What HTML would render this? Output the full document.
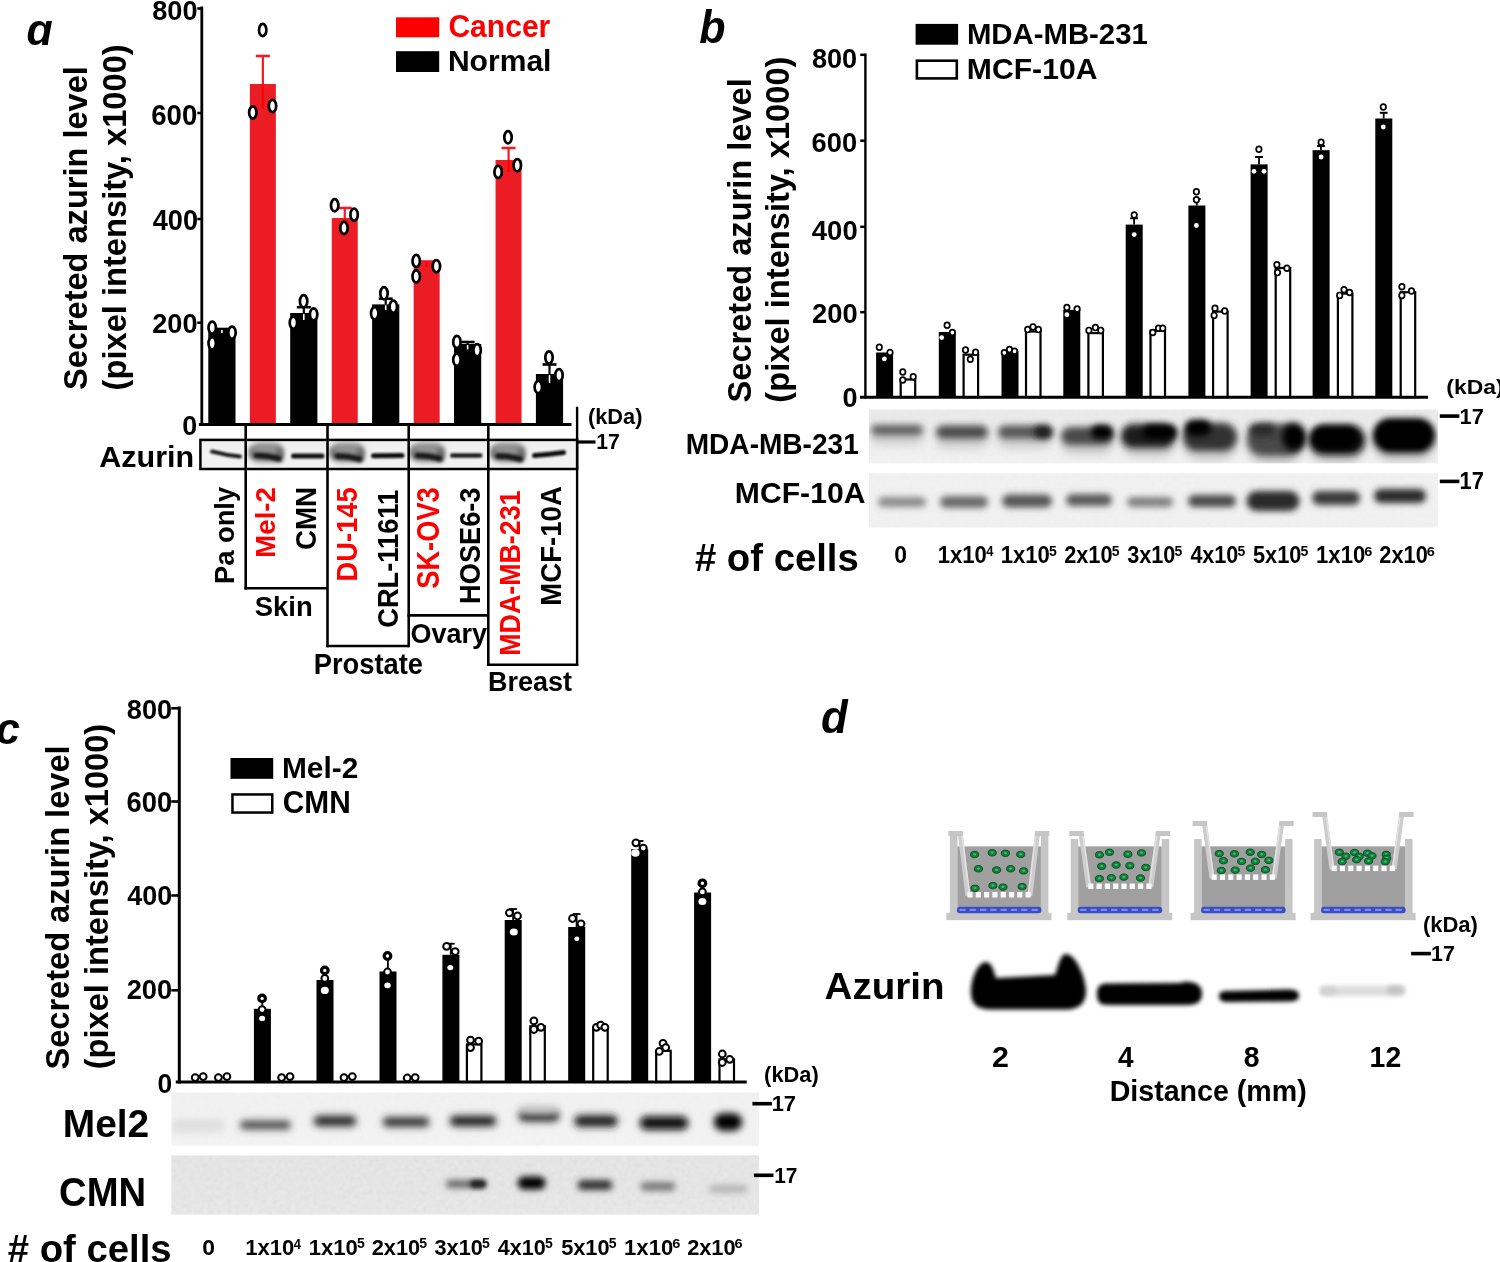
<!DOCTYPE html>
<html><head><meta charset="utf-8"><title>Figure</title>
<style>
html,body{margin:0;padding:0;background:#fff;}
body{width:1500px;height:1262px;overflow:hidden;}
svg{display:block;filter:blur(0.4px);}
svg text{font-family:"Liberation Sans",sans-serif;font-weight:bold;}
</style></head><body>
<svg width="1500" height="1262" viewBox="0 0 1500 1262">
<defs>
<filter id="b0_9" x="-50%" y="-100%" width="200%" height="300%"><feGaussianBlur stdDeviation="0.9"/></filter>
<filter id="b1" x="-50%" y="-100%" width="200%" height="300%"><feGaussianBlur stdDeviation="1"/></filter>
<filter id="b1_2" x="-50%" y="-100%" width="200%" height="300%"><feGaussianBlur stdDeviation="1.2"/></filter>
<filter id="b1_3" x="-50%" y="-100%" width="200%" height="300%"><feGaussianBlur stdDeviation="1.3"/></filter>
<filter id="b1_5" x="-50%" y="-100%" width="200%" height="300%"><feGaussianBlur stdDeviation="1.5"/></filter>
<filter id="b1_6" x="-50%" y="-100%" width="200%" height="300%"><feGaussianBlur stdDeviation="1.6"/></filter>
<filter id="b2" x="-50%" y="-100%" width="200%" height="300%"><feGaussianBlur stdDeviation="2"/></filter>
<filter id="b2_2" x="-50%" y="-100%" width="200%" height="300%"><feGaussianBlur stdDeviation="2.2"/></filter>
<filter id="b2_5" x="-50%" y="-100%" width="200%" height="300%"><feGaussianBlur stdDeviation="2.5"/></filter>
<filter id="b3" x="-50%" y="-100%" width="200%" height="300%"><feGaussianBlur stdDeviation="3"/></filter>
<filter id="b3_5" x="-50%" y="-100%" width="200%" height="300%"><feGaussianBlur stdDeviation="3.5"/></filter>
<filter id="b4" x="-50%" y="-100%" width="200%" height="300%"><feGaussianBlur stdDeviation="4"/></filter>
<filter id="b5" x="-50%" y="-100%" width="200%" height="300%"><feGaussianBlur stdDeviation="5"/></filter>
<linearGradient id="blotA" x1="0" y1="0" x2="0" y2="1"><stop offset="0" stop-color="#ececec"/><stop offset="0.5" stop-color="#f4f4f4"/><stop offset="1" stop-color="#f0f0f0"/></linearGradient>
<linearGradient id="blotB1" x1="0" y1="0" x2="0" y2="1"><stop offset="0" stop-color="#ececec"/><stop offset="1" stop-color="#f4f4f4"/></linearGradient>
<linearGradient id="blotB2" x1="0" y1="0" x2="0" y2="1"><stop offset="0" stop-color="#f3f3f3"/><stop offset="1" stop-color="#f3f3f3"/></linearGradient>
<linearGradient id="blotC1" x1="0" y1="0" x2="0" y2="1"><stop offset="0" stop-color="#f3f3f3"/><stop offset="1" stop-color="#f6f6f6"/></linearGradient>
<linearGradient id="blotC2" x1="0" y1="0" x2="0" y2="1"><stop offset="0" stop-color="#e9e9e9"/><stop offset="1" stop-color="#ececec"/></linearGradient>
<clipPath id="clipA"><rect x="201" y="441" width="375" height="27"/></clipPath>
<clipPath id="clipB1"><rect x="869" y="409.6" width="568.8" height="53.6"/></clipPath>
<clipPath id="clipB2"><rect x="869" y="473.2" width="568.8" height="54.3"/></clipPath>
<clipPath id="clipC1"><rect x="171.5" y="1092.6" width="587.5" height="53.2"/></clipPath>
<clipPath id="clipC2"><rect x="171.5" y="1155.6" width="587.5" height="58.8"/></clipPath>
<filter id="nz" x="0" y="0" width="100%" height="100%"><feTurbulence type="fractalNoise" baseFrequency="0.22" numOctaves="2" seed="7"/><feColorMatrix type="matrix" values="0.33 0.33 0.33 0 0  0.33 0.33 0.33 0 0  0.33 0.33 0.33 0 0  0 0 0 0 1"/></filter>
</defs>
<text x="26.51" y="45.25" font-size="45.09" textLength="26.29" lengthAdjust="spacingAndGlyphs" fill="#000" font-style="italic">ɑ</text>
<line x1="201.80" y1="6.50" x2="201.80" y2="426.00" stroke="#000" stroke-width="2.8"/>
<line x1="197.30" y1="8.50" x2="201.80" y2="8.50" stroke="#000" stroke-width="2.6"/>
<line x1="197.30" y1="113.00" x2="201.80" y2="113.00" stroke="#000" stroke-width="2.6"/>
<line x1="197.30" y1="219.00" x2="201.80" y2="219.00" stroke="#000" stroke-width="2.6"/>
<line x1="197.30" y1="322.70" x2="201.80" y2="322.70" stroke="#000" stroke-width="2.6"/>
<text x="152.18" y="19.83" font-size="26.90" textLength="45.36" lengthAdjust="spacingAndGlyphs" fill="#000">800</text>
<text x="151.30" y="124.91" font-size="29.01" textLength="45.97" lengthAdjust="spacingAndGlyphs" fill="#000">600</text>
<text x="152.73" y="229.61" font-size="29.01" textLength="45.32" lengthAdjust="spacingAndGlyphs" fill="#000">400</text>
<text x="152.18" y="333.03" font-size="27.32" textLength="45.36" lengthAdjust="spacingAndGlyphs" fill="#000">200</text>
<text x="182.33" y="434.53" font-size="27.32" textLength="14.95" lengthAdjust="spacingAndGlyphs" fill="#000">0</text>
<text transform="translate(86.67,390.08) rotate(-90)" x="0" y="0" font-size="33.38" textLength="323.93" lengthAdjust="spacingAndGlyphs" fill="#000">Secreted azurin level</text>
<text transform="translate(125.54,390.43) rotate(-90)" x="0" y="0" font-size="33.62" textLength="346.16" lengthAdjust="spacingAndGlyphs" fill="#000">(pixel intensity, x1000)</text>
<rect x="208.30" y="329.00" width="27.20" height="95.50" fill="#000"/>
<rect x="249.85" y="84.00" width="26.00" height="340.50" fill="#ec1c24"/>
<rect x="290.20" y="313.00" width="27.20" height="111.50" fill="#000"/>
<rect x="331.75" y="218.00" width="26.00" height="206.50" fill="#ec1c24"/>
<rect x="372.10" y="304.40" width="27.20" height="120.10" fill="#000"/>
<rect x="413.65" y="261.50" width="26.00" height="163.00" fill="#ec1c24"/>
<rect x="454.00" y="344.00" width="27.20" height="80.50" fill="#000"/>
<rect x="495.55" y="160.00" width="26.00" height="264.50" fill="#ec1c24"/>
<rect x="535.90" y="374.00" width="27.20" height="50.50" fill="#000"/>
<line x1="221.90" y1="329.00" x2="221.90" y2="329.00" stroke="#000" stroke-width="2.2"/>
<line x1="214.90" y1="329.00" x2="228.90" y2="329.00" stroke="#000" stroke-width="2.6"/>
<line x1="221.90" y1="330.00" x2="221.90" y2="333.00" stroke="#fff" stroke-width="1.6"/>
<line x1="262.85" y1="56.00" x2="262.85" y2="84.00" stroke="#ec1c24" stroke-width="2.2"/>
<line x1="255.85" y1="56.00" x2="269.85" y2="56.00" stroke="#ec1c24" stroke-width="2.6"/>
<line x1="262.85" y1="84.00" x2="262.85" y2="109.00" stroke="#ff0000" stroke-width="2.2"/>
<line x1="303.80" y1="307.20" x2="303.80" y2="313.00" stroke="#000" stroke-width="2.2"/>
<line x1="296.80" y1="307.20" x2="310.80" y2="307.20" stroke="#000" stroke-width="2.6"/>
<line x1="303.80" y1="314.00" x2="303.80" y2="320.00" stroke="#fff" stroke-width="1.6"/>
<line x1="344.75" y1="208.00" x2="344.75" y2="218.00" stroke="#ec1c24" stroke-width="2.2"/>
<line x1="337.75" y1="208.00" x2="351.75" y2="208.00" stroke="#ec1c24" stroke-width="2.6"/>
<line x1="344.75" y1="218.00" x2="344.75" y2="228.00" stroke="#ff0000" stroke-width="2.2"/>
<line x1="385.70" y1="298.70" x2="385.70" y2="304.40" stroke="#000" stroke-width="2.2"/>
<line x1="378.70" y1="298.70" x2="392.70" y2="298.70" stroke="#000" stroke-width="2.6"/>
<line x1="385.70" y1="305.40" x2="385.70" y2="310.00" stroke="#fff" stroke-width="1.6"/>
<line x1="426.65" y1="261.50" x2="426.65" y2="261.50" stroke="#ec1c24" stroke-width="2.2"/>
<line x1="419.65" y1="261.50" x2="433.65" y2="261.50" stroke="#ec1c24" stroke-width="2.6"/>
<line x1="426.65" y1="261.50" x2="426.65" y2="267.00" stroke="#ff0000" stroke-width="2.2"/>
<line x1="467.60" y1="342.00" x2="467.60" y2="344.00" stroke="#000" stroke-width="2.2"/>
<line x1="460.60" y1="342.00" x2="474.60" y2="342.00" stroke="#000" stroke-width="2.6"/>
<line x1="467.60" y1="345.00" x2="467.60" y2="349.50" stroke="#fff" stroke-width="1.6"/>
<line x1="508.55" y1="148.00" x2="508.55" y2="160.00" stroke="#ec1c24" stroke-width="2.2"/>
<line x1="501.55" y1="148.00" x2="515.55" y2="148.00" stroke="#ec1c24" stroke-width="2.6"/>
<line x1="508.55" y1="160.00" x2="508.55" y2="172.00" stroke="#ff0000" stroke-width="2.2"/>
<line x1="549.50" y1="364.50" x2="549.50" y2="374.00" stroke="#000" stroke-width="2.2"/>
<line x1="542.50" y1="364.50" x2="556.50" y2="364.50" stroke="#000" stroke-width="2.6"/>
<line x1="549.50" y1="375.00" x2="549.50" y2="383.00" stroke="#fff" stroke-width="1.6"/>
<ellipse cx="212.20" cy="327.70" rx="3.70" ry="6.10" fill="#fff" stroke="#000" stroke-width="2.7"/>
<ellipse cx="212.20" cy="343.30" rx="3.70" ry="6.10" fill="#fff" stroke="#000" stroke-width="2.7"/>
<ellipse cx="232.00" cy="332.70" rx="3.70" ry="6.10" fill="#fff" stroke="#000" stroke-width="2.7"/>
<ellipse cx="262.70" cy="30.00" rx="3.70" ry="6.10" fill="#fff" stroke="#000" stroke-width="2.7"/>
<ellipse cx="252.80" cy="112.50" rx="3.70" ry="6.10" fill="#fff" stroke="#000" stroke-width="2.7"/>
<ellipse cx="272.50" cy="106.00" rx="3.70" ry="6.10" fill="#fff" stroke="#000" stroke-width="2.7"/>
<ellipse cx="303.60" cy="301.30" rx="3.70" ry="6.10" fill="#fff" stroke="#000" stroke-width="2.7"/>
<ellipse cx="293.40" cy="322.70" rx="3.70" ry="6.10" fill="#fff" stroke="#000" stroke-width="2.7"/>
<ellipse cx="313.60" cy="314.40" rx="3.70" ry="6.10" fill="#fff" stroke="#000" stroke-width="2.7"/>
<ellipse cx="334.70" cy="205.30" rx="3.70" ry="6.10" fill="#fff" stroke="#000" stroke-width="2.7"/>
<ellipse cx="354.10" cy="214.70" rx="3.70" ry="6.10" fill="#fff" stroke="#000" stroke-width="2.7"/>
<ellipse cx="344.00" cy="228.00" rx="3.70" ry="6.10" fill="#fff" stroke="#000" stroke-width="2.7"/>
<ellipse cx="384.00" cy="293.30" rx="3.70" ry="6.10" fill="#fff" stroke="#000" stroke-width="2.7"/>
<ellipse cx="374.70" cy="313.30" rx="3.70" ry="6.10" fill="#fff" stroke="#000" stroke-width="2.7"/>
<ellipse cx="393.30" cy="306.70" rx="3.70" ry="6.10" fill="#fff" stroke="#000" stroke-width="2.7"/>
<ellipse cx="416.20" cy="261.00" rx="3.70" ry="6.10" fill="#fff" stroke="#000" stroke-width="2.7"/>
<ellipse cx="416.20" cy="276.40" rx="3.70" ry="6.10" fill="#fff" stroke="#000" stroke-width="2.7"/>
<ellipse cx="436.40" cy="266.20" rx="3.70" ry="6.10" fill="#fff" stroke="#000" stroke-width="2.7"/>
<ellipse cx="456.90" cy="341.90" rx="3.70" ry="6.10" fill="#fff" stroke="#000" stroke-width="2.7"/>
<ellipse cx="456.90" cy="359.80" rx="3.70" ry="6.10" fill="#fff" stroke="#000" stroke-width="2.7"/>
<ellipse cx="477.10" cy="350.20" rx="3.70" ry="6.10" fill="#fff" stroke="#000" stroke-width="2.7"/>
<ellipse cx="508.00" cy="137.30" rx="3.70" ry="6.10" fill="#fff" stroke="#000" stroke-width="2.7"/>
<ellipse cx="498.10" cy="172.00" rx="3.70" ry="6.10" fill="#fff" stroke="#000" stroke-width="2.7"/>
<ellipse cx="517.30" cy="165.30" rx="3.70" ry="6.10" fill="#fff" stroke="#000" stroke-width="2.7"/>
<ellipse cx="549.00" cy="357.40" rx="3.70" ry="6.10" fill="#fff" stroke="#000" stroke-width="2.7"/>
<ellipse cx="538.30" cy="387.10" rx="3.70" ry="6.10" fill="#fff" stroke="#000" stroke-width="2.7"/>
<ellipse cx="559.00" cy="375.20" rx="3.70" ry="6.10" fill="#fff" stroke="#000" stroke-width="2.7"/>
<line x1="198.90" y1="424.50" x2="571.50" y2="424.50" stroke="#000" stroke-width="3.2"/>
<rect x="396.00" y="17.30" width="43.20" height="20.00" fill="#ff0000"/>
<rect x="396.00" y="51.20" width="43.20" height="20.80" fill="#000"/>
<text x="448.40" y="36.88" font-size="32.11" textLength="101.92" lengthAdjust="spacingAndGlyphs" fill="#ff0000">Cancer</text>
<text x="447.90" y="70.90" font-size="29.73" textLength="103.57" lengthAdjust="spacingAndGlyphs" fill="#000">Normal</text>
<line x1="577.10" y1="406.70" x2="577.10" y2="666.00" stroke="#000" stroke-width="2.4"/>
<text x="587.91" y="424.31" font-size="22.34" textLength="54.49" lengthAdjust="spacingAndGlyphs" fill="#000">(kDa)</text>
<line x1="577.00" y1="442.00" x2="595.50" y2="442.00" stroke="#000" stroke-width="3.2"/>
<text x="596.33" y="448.80" font-size="21.59" textLength="23.57" lengthAdjust="spacingAndGlyphs" fill="#000">17</text>
<rect x="200.20" y="439.90" width="376.80" height="29.10" fill="url(#blotA)"/>
<g clip-path="url(#clipA)">
<rect x="249.0" y="442.5" width="35.0" height="20.0" rx="10.0" fill="#909090" opacity="1.0" filter="url(#b2_5)"/>
<rect x="275.5" y="447.5" width="8.0" height="15.0" rx="7.5" fill="#6a6a6a" opacity="1.0" filter="url(#b2_2)"/>
<rect x="249.5" y="447.0" width="6.0" height="12.0" rx="6.0" fill="#7a7a7a" opacity="1.0" filter="url(#b2_2)"/>
<path d="M253.5 455.5 Q 253.5 452.5 256.5 452.5 Q 267.5 452.4 278.5 455.5 Q 281.5 455.5 281.5 458.5 Q 281.5 461.5 278.5 461.5 Q 267.5 458.4 256.5 458.5 Q 253.5 458.5 253.5 455.5 Z" fill="#151515" filter="url(#b1_6)"/>
<rect x="329.8" y="442.5" width="35.0" height="20.0" rx="10.0" fill="#909090" opacity="1.0" filter="url(#b2_5)"/>
<rect x="356.3" y="447.5" width="8.0" height="15.0" rx="7.5" fill="#6a6a6a" opacity="1.0" filter="url(#b2_2)"/>
<rect x="330.3" y="447.0" width="6.0" height="12.0" rx="6.0" fill="#7a7a7a" opacity="1.0" filter="url(#b2_2)"/>
<path d="M334.3 456.0 Q 334.3 453.0 337.3 453.0 Q 348.3 452.9 359.3 456.0 Q 362.3 456.0 362.3 459.0 Q 362.3 462.0 359.3 462.0 Q 348.3 458.9 337.3 459.0 Q 334.3 459.0 334.3 456.0 Z" fill="#151515" filter="url(#b1_6)"/>
<rect x="410.0" y="442.5" width="35.0" height="20.0" rx="10.0" fill="#909090" opacity="1.0" filter="url(#b2_5)"/>
<rect x="436.5" y="447.5" width="8.0" height="15.0" rx="7.5" fill="#6a6a6a" opacity="1.0" filter="url(#b2_2)"/>
<rect x="410.5" y="447.0" width="6.0" height="12.0" rx="6.0" fill="#7a7a7a" opacity="1.0" filter="url(#b2_2)"/>
<path d="M414.5 455.5 Q 414.5 452.5 417.5 452.5 Q 428.5 452.4 439.5 455.5 Q 442.5 455.5 442.5 458.5 Q 442.5 461.5 439.5 461.5 Q 428.5 458.4 417.5 458.5 Q 414.5 458.5 414.5 455.5 Z" fill="#151515" filter="url(#b1_6)"/>
<rect x="490.5" y="442.5" width="35.0" height="20.0" rx="10.0" fill="#909090" opacity="1.0" filter="url(#b2_5)"/>
<rect x="517.0" y="447.5" width="8.0" height="15.0" rx="7.5" fill="#6a6a6a" opacity="1.0" filter="url(#b2_2)"/>
<rect x="491.0" y="447.0" width="6.0" height="12.0" rx="6.0" fill="#7a7a7a" opacity="1.0" filter="url(#b2_2)"/>
<path d="M495.0 456.0 Q 495.0 453.0 498.0 453.0 Q 509.0 452.9 520.0 456.0 Q 523.0 456.0 523.0 459.0 Q 523.0 462.0 520.0 462.0 Q 509.0 458.9 498.0 459.0 Q 495.0 459.0 495.0 456.0 Z" fill="#151515" filter="url(#b1_6)"/>
<path d="M210.0 451.5 Q 210.0 449.4 212.1 449.4 Q 226.0 453.1 239.9 454.4 Q 242.0 454.4 242.0 456.5 Q 242.0 458.6 239.9 458.6 Q 226.0 457.3 212.1 453.6 Q 210.0 453.6 210.0 451.5 Z" fill="#141414" filter="url(#b1_2)"/>
<path d="M291.0 456.0 Q 291.0 453.5 293.5 453.5 Q 307.8 453.5 322.0 453.5 Q 324.5 453.5 324.5 456.0 Q 324.5 458.5 322.0 458.5 Q 307.8 458.5 293.5 458.5 Q 291.0 458.5 291.0 456.0 Z" fill="#111" filter="url(#b1_2)"/>
<path d="M371.0 455.8 Q 371.0 453.3 373.5 453.3 Q 387.8 453.1 402.0 453.0 Q 404.5 453.0 404.5 455.5 Q 404.5 458.0 402.0 458.0 Q 387.8 458.1 373.5 458.3 Q 371.0 458.3 371.0 455.8 Z" fill="#111" filter="url(#b1_2)"/>
<path d="M450.0 455.5 Q 450.0 453.2 452.2 453.2 Q 466.2 453.2 480.2 453.2 Q 482.5 453.2 482.5 455.5 Q 482.5 457.8 480.2 457.8 Q 466.2 457.8 452.2 457.8 Q 450.0 457.8 450.0 455.5 Z" fill="#1a1a1a" filter="url(#b1_2)"/>
<path d="M532.0 455.5 Q 532.0 453.0 534.5 453.0 Q 549.0 451.9 563.5 450.0 Q 566.0 450.0 566.0 452.5 Q 566.0 455.0 563.5 455.0 Q 549.0 456.9 534.5 458.0 Q 532.0 458.0 532.0 455.5 Z" fill="#111" filter="url(#b1_2)"/>
</g>
<rect x="200.40" y="439.90" width="376.70" height="29.10" fill="none" stroke="#000" stroke-width="2.5"/>
<text x="99.29" y="466.80" font-size="29.86" textLength="94.87" lengthAdjust="spacingAndGlyphs" fill="#000">Azurin</text>
<line x1="245.70" y1="424.00" x2="245.70" y2="589.40" stroke="#000" stroke-width="2.6"/>
<line x1="244.40" y1="588.20" x2="327.50" y2="588.20" stroke="#000" stroke-width="2.6"/>
<line x1="327.50" y1="424.00" x2="327.50" y2="647.30" stroke="#000" stroke-width="2.6"/>
<line x1="326.20" y1="646.00" x2="408.70" y2="646.00" stroke="#000" stroke-width="2.6"/>
<line x1="408.70" y1="424.00" x2="408.70" y2="647.30" stroke="#000" stroke-width="2.6"/>
<line x1="407.40" y1="615.40" x2="488.30" y2="615.40" stroke="#000" stroke-width="2.8"/>
<line x1="488.30" y1="424.00" x2="488.30" y2="666.00" stroke="#000" stroke-width="2.6"/>
<line x1="487.00" y1="664.80" x2="578.30" y2="664.80" stroke="#000" stroke-width="2.6"/>
<text transform="translate(234.11,584.11) rotate(-90)" x="0" y="0" font-size="27.55" textLength="97.30" lengthAdjust="spacingAndGlyphs" fill="#000">Pa only</text>
<text transform="translate(275.12,557.63) rotate(-90)" x="0" y="0" font-size="27.57" textLength="70.43" lengthAdjust="spacingAndGlyphs" fill="#ff0000">Mel-2</text>
<text transform="translate(316.10,550.11) rotate(-90)" x="0" y="0" font-size="29.72" textLength="63.18" lengthAdjust="spacingAndGlyphs" fill="#000">CMN</text>
<text transform="translate(356.61,581.51) rotate(-90)" x="0" y="0" font-size="29.29" textLength="94.12" lengthAdjust="spacingAndGlyphs" fill="#ff0000">DU-145</text>
<text transform="translate(397.80,627.79) rotate(-90)" x="0" y="0" font-size="29.58" textLength="137.97" lengthAdjust="spacingAndGlyphs" fill="#000">CRL-11611</text>
<text transform="translate(438.89,588.82) rotate(-90)" x="0" y="0" font-size="30.70" textLength="101.63" lengthAdjust="spacingAndGlyphs" fill="#ff0000">SK-OV3</text>
<text transform="translate(479.51,603.90) rotate(-90)" x="0" y="0" font-size="29.15" textLength="116.37" lengthAdjust="spacingAndGlyphs" fill="#000">HOSE6-3</text>
<text transform="translate(520.30,655.78) rotate(-90)" x="0" y="0" font-size="29.72" textLength="165.30" lengthAdjust="spacingAndGlyphs" fill="#ff0000">MDA-MB-231</text>
<text transform="translate(560.80,605.63) rotate(-90)" x="0" y="0" font-size="29.72" textLength="119.48" lengthAdjust="spacingAndGlyphs" fill="#000">MCF-10A</text>
<text x="254.78" y="616.22" font-size="27.70" textLength="57.92" lengthAdjust="spacingAndGlyphs" fill="#000">Skin</text>
<text x="313.69" y="674.31" font-size="28.86" textLength="109.27" lengthAdjust="spacingAndGlyphs" fill="#000">Prostate</text>
<text x="410.52" y="642.75" font-size="28.35" textLength="76.53" lengthAdjust="spacingAndGlyphs" fill="#000">Ovary</text>
<text x="487.91" y="690.52" font-size="27.57" textLength="84.04" lengthAdjust="spacingAndGlyphs" fill="#000">Breast</text>
<text x="699.24" y="42.64" font-size="45.95" textLength="26.29" lengthAdjust="spacingAndGlyphs" fill="#000" font-style="italic">b</text>
<line x1="865.40" y1="53.50" x2="865.40" y2="398.50" stroke="#000" stroke-width="2.4"/>
<line x1="860.20" y1="54.80" x2="865.40" y2="54.80" stroke="#000" stroke-width="2.5"/>
<line x1="860.20" y1="140.70" x2="865.40" y2="140.70" stroke="#000" stroke-width="2.5"/>
<line x1="860.20" y1="226.80" x2="865.40" y2="226.80" stroke="#000" stroke-width="2.5"/>
<line x1="860.20" y1="312.20" x2="865.40" y2="312.20" stroke="#000" stroke-width="2.5"/>
<text x="811.89" y="68.12" font-size="28.45" textLength="45.26" lengthAdjust="spacingAndGlyphs" fill="#000">800</text>
<text x="811.61" y="152.42" font-size="27.61" textLength="45.55" lengthAdjust="spacingAndGlyphs" fill="#000">600</text>
<text x="811.83" y="239.92" font-size="28.31" textLength="45.83" lengthAdjust="spacingAndGlyphs" fill="#000">400</text>
<text x="811.98" y="322.73" font-size="27.46" textLength="45.68" lengthAdjust="spacingAndGlyphs" fill="#000">200</text>
<text x="842.42" y="407.22" font-size="28.17" textLength="15.07" lengthAdjust="spacingAndGlyphs" fill="#000">0</text>
<text transform="translate(750.66,402.48) rotate(-90)" x="0" y="0" font-size="33.78" textLength="324.23" lengthAdjust="spacingAndGlyphs" fill="#000">Secreted azurin level</text>
<text transform="translate(789.07,402.63) rotate(-90)" x="0" y="0" font-size="32.98" textLength="346.06" lengthAdjust="spacingAndGlyphs" fill="#000">(pixel intensity, x1000)</text>
<rect x="876.10" y="352.50" width="17.00" height="44.70" fill="#000"/>
<rect x="900.70" y="379.50" width="14.50" height="17.70" fill="#fff" stroke="#000" stroke-width="2.2"/>
<ellipse cx="879.30" cy="347.20" rx="2.70" ry="2.90" fill="#fff" stroke="#000" stroke-width="1.7"/>
<ellipse cx="890.00" cy="352.50" rx="2.70" ry="2.90" fill="#fff" stroke="#000" stroke-width="1.7"/>
<ellipse cx="884.40" cy="358.90" rx="2.40" ry="2.40" fill="#fff" stroke="none" stroke-width="0"/>
<ellipse cx="902.80" cy="372.00" rx="2.70" ry="2.90" fill="#fff" stroke="#000" stroke-width="1.7"/>
<ellipse cx="902.80" cy="380.00" rx="2.70" ry="2.90" fill="#fff" stroke="#000" stroke-width="1.7"/>
<ellipse cx="913.20" cy="376.80" rx="2.70" ry="2.90" fill="#fff" stroke="#000" stroke-width="1.7"/>
<rect x="938.80" y="332.00" width="17.00" height="65.20" fill="#000"/>
<rect x="963.60" y="354.70" width="14.50" height="42.50" fill="#fff" stroke="#000" stroke-width="2.2"/>
<ellipse cx="947.10" cy="325.30" rx="2.70" ry="2.90" fill="#fff" stroke="#000" stroke-width="1.7"/>
<ellipse cx="952.40" cy="332.50" rx="2.70" ry="2.90" fill="#fff" stroke="#000" stroke-width="1.7"/>
<ellipse cx="941.70" cy="337.60" rx="2.40" ry="2.40" fill="#fff" stroke="none" stroke-width="0"/>
<ellipse cx="965.50" cy="350.00" rx="2.70" ry="2.90" fill="#fff" stroke="#000" stroke-width="1.7"/>
<ellipse cx="975.60" cy="352.30" rx="2.70" ry="2.90" fill="#fff" stroke="#000" stroke-width="1.7"/>
<ellipse cx="970.30" cy="359.20" rx="2.70" ry="2.90" fill="#fff" stroke="#000" stroke-width="1.7"/>
<rect x="1001.50" y="351.20" width="17.00" height="46.00" fill="#000"/>
<rect x="1026.00" y="331.50" width="14.50" height="65.70" fill="#fff" stroke="#000" stroke-width="2.2"/>
<ellipse cx="1004.30" cy="352.80" rx="2.70" ry="2.90" fill="#fff" stroke="#000" stroke-width="1.7"/>
<ellipse cx="1009.50" cy="349.60" rx="2.70" ry="2.90" fill="#fff" stroke="#000" stroke-width="1.7"/>
<ellipse cx="1014.60" cy="351.20" rx="2.70" ry="2.90" fill="#fff" stroke="#000" stroke-width="1.7"/>
<ellipse cx="1027.70" cy="329.60" rx="2.70" ry="2.90" fill="#fff" stroke="#000" stroke-width="1.7"/>
<ellipse cx="1033.00" cy="326.90" rx="2.70" ry="2.90" fill="#fff" stroke="#000" stroke-width="1.7"/>
<ellipse cx="1038.40" cy="329.60" rx="2.70" ry="2.90" fill="#fff" stroke="#000" stroke-width="1.7"/>
<rect x="1063.30" y="309.90" width="17.00" height="87.30" fill="#000"/>
<rect x="1088.40" y="333.10" width="14.50" height="64.10" fill="#fff" stroke="#000" stroke-width="2.2"/>
<ellipse cx="1066.90" cy="307.50" rx="2.70" ry="2.90" fill="#fff" stroke="#000" stroke-width="1.7"/>
<ellipse cx="1077.10" cy="309.10" rx="2.70" ry="2.90" fill="#fff" stroke="#000" stroke-width="1.7"/>
<ellipse cx="1066.90" cy="314.70" rx="2.40" ry="2.40" fill="#fff" stroke="none" stroke-width="0"/>
<ellipse cx="1088.90" cy="330.40" rx="2.70" ry="2.90" fill="#fff" stroke="#000" stroke-width="1.7"/>
<ellipse cx="1095.40" cy="327.60" rx="2.70" ry="2.90" fill="#fff" stroke="#000" stroke-width="1.7"/>
<ellipse cx="1100.80" cy="330.40" rx="2.70" ry="2.90" fill="#fff" stroke="#000" stroke-width="1.7"/>
<line x1="1134.10" y1="218.30" x2="1134.10" y2="224.60" stroke="#000" stroke-width="1.8"/>
<line x1="1130.20" y1="218.30" x2="1138.00" y2="218.30" stroke="#000" stroke-width="2"/>
<rect x="1125.70" y="224.60" width="17.00" height="172.60" fill="#000"/>
<rect x="1150.50" y="330.70" width="14.50" height="66.50" fill="#fff" stroke="#000" stroke-width="2.2"/>
<ellipse cx="1134.20" cy="215.00" rx="2.70" ry="2.90" fill="#fff" stroke="#000" stroke-width="1.7"/>
<ellipse cx="1134.20" cy="234.60" rx="2.40" ry="2.40" fill="#fff" stroke="none" stroke-width="0"/>
<ellipse cx="1152.80" cy="332.50" rx="2.70" ry="2.90" fill="#fff" stroke="#000" stroke-width="1.7"/>
<ellipse cx="1158.50" cy="328.20" rx="2.70" ry="2.90" fill="#fff" stroke="#000" stroke-width="1.7"/>
<ellipse cx="1162.80" cy="328.20" rx="2.70" ry="2.90" fill="#fff" stroke="#000" stroke-width="1.7"/>
<line x1="1196.80" y1="199.00" x2="1196.80" y2="205.50" stroke="#000" stroke-width="1.8"/>
<line x1="1192.90" y1="199.00" x2="1200.70" y2="199.00" stroke="#000" stroke-width="2"/>
<rect x="1188.40" y="205.50" width="17.00" height="191.70" fill="#000"/>
<rect x="1213.10" y="311.60" width="14.50" height="85.60" fill="#fff" stroke="#000" stroke-width="2.2"/>
<ellipse cx="1196.40" cy="191.80" rx="2.70" ry="2.90" fill="#fff" stroke="#000" stroke-width="1.7"/>
<ellipse cx="1196.40" cy="199.80" rx="2.70" ry="2.90" fill="#fff" stroke="#000" stroke-width="1.7"/>
<ellipse cx="1196.40" cy="225.50" rx="2.40" ry="2.40" fill="#fff" stroke="none" stroke-width="0"/>
<ellipse cx="1214.10" cy="315.40" rx="2.70" ry="2.90" fill="#fff" stroke="#000" stroke-width="1.7"/>
<ellipse cx="1215.00" cy="308.20" rx="2.70" ry="2.90" fill="#fff" stroke="#000" stroke-width="1.7"/>
<ellipse cx="1224.70" cy="311.00" rx="2.70" ry="2.90" fill="#fff" stroke="#000" stroke-width="1.7"/>
<line x1="1259.00" y1="157.00" x2="1259.00" y2="164.40" stroke="#000" stroke-width="1.8"/>
<line x1="1255.10" y1="157.00" x2="1262.90" y2="157.00" stroke="#000" stroke-width="2"/>
<rect x="1250.60" y="164.40" width="17.00" height="232.80" fill="#000"/>
<rect x="1275.70" y="268.00" width="14.50" height="129.20" fill="#fff" stroke="#000" stroke-width="2.2"/>
<ellipse cx="1258.90" cy="149.30" rx="2.70" ry="2.90" fill="#fff" stroke="#000" stroke-width="1.7"/>
<ellipse cx="1254.00" cy="171.30" rx="2.40" ry="2.40" fill="#fff" stroke="none" stroke-width="0"/>
<ellipse cx="1264.00" cy="171.30" rx="2.40" ry="2.40" fill="#fff" stroke="none" stroke-width="0"/>
<ellipse cx="1276.90" cy="264.80" rx="2.70" ry="2.90" fill="#fff" stroke="#000" stroke-width="1.7"/>
<ellipse cx="1277.50" cy="272.60" rx="2.70" ry="2.90" fill="#fff" stroke="#000" stroke-width="1.7"/>
<ellipse cx="1286.90" cy="268.30" rx="2.70" ry="2.90" fill="#fff" stroke="#000" stroke-width="1.7"/>
<line x1="1321.00" y1="146.00" x2="1321.00" y2="150.20" stroke="#000" stroke-width="1.8"/>
<line x1="1317.10" y1="146.00" x2="1324.90" y2="146.00" stroke="#000" stroke-width="2"/>
<rect x="1312.60" y="150.20" width="17.00" height="247.00" fill="#000"/>
<rect x="1337.90" y="293.60" width="14.50" height="103.60" fill="#fff" stroke="#000" stroke-width="2.2"/>
<ellipse cx="1321.10" cy="142.20" rx="2.70" ry="2.90" fill="#fff" stroke="#000" stroke-width="1.7"/>
<ellipse cx="1321.10" cy="157.00" rx="2.40" ry="2.40" fill="#fff" stroke="none" stroke-width="0"/>
<ellipse cx="1339.70" cy="295.40" rx="2.70" ry="2.90" fill="#fff" stroke="#000" stroke-width="1.7"/>
<ellipse cx="1344.00" cy="289.70" rx="2.70" ry="2.90" fill="#fff" stroke="#000" stroke-width="1.7"/>
<ellipse cx="1349.60" cy="292.50" rx="2.70" ry="2.90" fill="#fff" stroke="#000" stroke-width="1.7"/>
<line x1="1383.70" y1="112.80" x2="1383.70" y2="118.50" stroke="#000" stroke-width="1.8"/>
<line x1="1379.80" y1="112.80" x2="1387.60" y2="112.80" stroke="#000" stroke-width="2"/>
<rect x="1375.30" y="118.50" width="17.00" height="278.70" fill="#000"/>
<rect x="1400.70" y="292.20" width="14.50" height="105.00" fill="#fff" stroke="#000" stroke-width="2.2"/>
<ellipse cx="1383.30" cy="107.00" rx="2.70" ry="2.90" fill="#fff" stroke="#000" stroke-width="1.7"/>
<ellipse cx="1383.30" cy="127.00" rx="2.40" ry="2.40" fill="#fff" stroke="none" stroke-width="0"/>
<ellipse cx="1401.90" cy="286.80" rx="2.70" ry="2.90" fill="#fff" stroke="#000" stroke-width="1.7"/>
<ellipse cx="1401.90" cy="295.40" rx="2.70" ry="2.90" fill="#fff" stroke="#000" stroke-width="1.7"/>
<ellipse cx="1411.50" cy="291.10" rx="2.70" ry="2.90" fill="#fff" stroke="#000" stroke-width="1.7"/>
<line x1="860.00" y1="397.20" x2="1428.00" y2="397.20" stroke="#000" stroke-width="3"/>
<rect x="915.60" y="23.90" width="42.50" height="20.80" fill="#000"/>
<rect x="916.90" y="60.70" width="39.90" height="17.70" fill="#fff" stroke="#000" stroke-width="2.6"/>
<text x="966.95" y="43.50" font-size="30.00" textLength="180.85" lengthAdjust="spacingAndGlyphs" fill="#000">MDA-MB-231</text>
<text x="966.89" y="78.71" font-size="29.30" textLength="130.52" lengthAdjust="spacingAndGlyphs" fill="#000">MCF-10A</text>
<rect x="869.00" y="409.60" width="568.80" height="53.60" fill="url(#blotB1)"/>
<rect x="869.00" y="473.20" width="568.80" height="54.30" fill="url(#blotB2)"/>
<rect x="869" y="409.6" width="568.8" height="53.6" filter="url(#nz)" opacity="0.04"/>
<rect x="869" y="473.2" width="568.8" height="54.3" filter="url(#nz)" opacity="0.04"/>
<g clip-path="url(#clipB1)">
<rect x="871.0" y="429.0" width="52.0" height="16.0" rx="8.0" fill="#cfcfcf" opacity="1.0" filter="url(#b4)"/>
<rect x="936.0" y="429.5" width="52.0" height="19.0" rx="9.5" fill="#cfcfcf" opacity="1.0" filter="url(#b4)"/>
<rect x="998.0" y="429.5" width="54.0" height="19.0" rx="9.5" fill="#cfcfcf" opacity="1.0" filter="url(#b4)"/>
<rect x="1061.0" y="431.0" width="52.0" height="24.0" rx="12.0" fill="#cfcfcf" opacity="1.0" filter="url(#b4)"/>
<rect x="1121.0" y="428.0" width="54.0" height="30.0" rx="15.0" fill="#cfcfcf" opacity="1.0" filter="url(#b4)"/>
<rect x="1183.0" y="427.0" width="54.0" height="34.0" rx="17.0" fill="#cfcfcf" opacity="1.0" filter="url(#b4)"/>
<rect x="1247.0" y="428.0" width="56.0" height="38.0" rx="19.0" fill="#cfcfcf" opacity="1.0" filter="url(#b4)"/>
<rect x="1309.0" y="429.0" width="56.0" height="36.0" rx="18.0" fill="#cfcfcf" opacity="1.0" filter="url(#b4)"/>
<rect x="1373.0" y="423.0" width="62.0" height="40.0" rx="20.0" fill="#cfcfcf" opacity="1.0" filter="url(#b4)"/>
<rect x="871.0" y="425.0" width="52.0" height="10.0" rx="5.0" fill="#5a5a5a" opacity="1.0" filter="url(#b3_5)"/>
<rect x="936.0" y="425.5" width="52.0" height="13.0" rx="6.5" fill="#4a4a4a" opacity="1.0" filter="url(#b3_5)"/>
<rect x="998.0" y="425.5" width="54.0" height="13.0" rx="6.5" fill="#555" opacity="1.0" filter="url(#b3_5)"/>
<rect x="1061.0" y="427.0" width="52.0" height="18.0" rx="9.0" fill="#4a4a4a" opacity="1.0" filter="url(#b3_5)"/>
<rect x="1121.0" y="424.0" width="54.0" height="24.0" rx="12.0" fill="#1a1a1a" opacity="1.0" filter="url(#b3_5)"/>
<rect x="1183.0" y="423.0" width="54.0" height="28.0" rx="14.0" fill="#333" opacity="1.0" filter="url(#b3_5)"/>
<rect x="1247.0" y="424.0" width="56.0" height="32.0" rx="16.0" fill="#4a4a4a" opacity="1.0" filter="url(#b3_5)"/>
<rect x="1309.0" y="425.0" width="56.0" height="30.0" rx="15.0" fill="#0a0a0a" opacity="1.0" filter="url(#b3_5)"/>
<rect x="1373.0" y="419.0" width="62.0" height="34.0" rx="17.0" fill="#000" opacity="1.0" filter="url(#b3_5)"/>
<rect x="1034.0" y="426.0" width="18.0" height="12.0" rx="6.0" fill="#1a1a1a" opacity="1.0" filter="url(#b3)"/>
<rect x="1091.0" y="425.0" width="22.0" height="14.0" rx="7.0" fill="#000" opacity="1.0" filter="url(#b3)"/>
<rect x="1185.0" y="420.0" width="26.0" height="16.0" rx="8.0" fill="#000" opacity="1.0" filter="url(#b3)"/>
<rect x="1282.0" y="423.0" width="24.0" height="28.0" rx="14.0" fill="#000" opacity="1.0" filter="url(#b3_5)"/>
<rect x="1249.0" y="424.0" width="26.0" height="12.0" rx="6.0" fill="#2a2a2a" opacity="1.0" filter="url(#b3_5)"/>
<rect x="1143.0" y="425.0" width="34.0" height="14.0" rx="7.0" fill="#000" opacity="1.0" filter="url(#b3)"/>
<rect x="1312.0" y="427.0" width="46.0" height="22.0" rx="11.0" fill="#000" opacity="1.0" filter="url(#b3)"/>
<rect x="1377.0" y="421.0" width="54.0" height="26.0" rx="13.0" fill="#000" opacity="1.0" filter="url(#b3)"/>
</g>
<g clip-path="url(#clipB2)">
<rect x="878.0" y="497.0" width="48.0" height="10.0" rx="5.0" fill="#8a8a8a" opacity="1.0" filter="url(#b3)"/>
<rect x="940.0" y="496.0" width="48.0" height="12.0" rx="6.0" fill="#6a6a6a" opacity="1.0" filter="url(#b3)"/>
<rect x="1002.0" y="494.5" width="50.0" height="13.0" rx="6.5" fill="#555" opacity="1.0" filter="url(#b3)"/>
<rect x="1066.0" y="494.0" width="46.0" height="12.0" rx="6.0" fill="#5a5a5a" opacity="1.0" filter="url(#b3)"/>
<rect x="1127.0" y="497.0" width="46.0" height="10.0" rx="5.0" fill="#7e7e7e" opacity="1.0" filter="url(#b3)"/>
<rect x="1188.0" y="495.0" width="48.0" height="12.0" rx="6.0" fill="#4a4a4a" opacity="1.0" filter="url(#b3)"/>
<rect x="1246.5" y="491.0" width="53.0" height="20.0" rx="10.0" fill="#2a2a2a" opacity="1.0" filter="url(#b3)"/>
<rect x="1312.0" y="491.0" width="48.0" height="14.0" rx="7.0" fill="#3a3a3a" opacity="1.0" filter="url(#b3)"/>
<rect x="1374.0" y="489.0" width="52.0" height="14.0" rx="7.0" fill="#2a2a2a" opacity="1.0" filter="url(#b3)"/>
</g>
<text x="685.74" y="454.40" font-size="30.14" textLength="173.02" lengthAdjust="spacingAndGlyphs" fill="#000">MDA-MB-231</text>
<text x="734.89" y="503.00" font-size="30.00" textLength="130.52" lengthAdjust="spacingAndGlyphs" fill="#000">MCF-10A</text>
<text x="1446.35" y="394.18" font-size="21.06" textLength="57.31" lengthAdjust="spacingAndGlyphs" fill="#000">(kDa)</text>
<rect x="1439.80" y="414.30" width="19.50" height="3.60" fill="#000"/>
<text x="1459.59" y="423.50" font-size="22.32" textLength="24.34" lengthAdjust="spacingAndGlyphs" fill="#000">17</text>
<rect x="1439.80" y="479.60" width="19.50" height="3.60" fill="#000"/>
<text x="1459.59" y="488.90" font-size="23.04" textLength="24.34" lengthAdjust="spacingAndGlyphs" fill="#000">17</text>
<text x="694.93" y="570.91" font-size="38.65" textLength="163.89" lengthAdjust="spacingAndGlyphs" fill="#000"># of cells</text>
<text x="894.28" y="562.57" font-size="23.10" textLength="12.75" lengthAdjust="spacingAndGlyphs" fill="#000">0</text>
<text x="937.68" y="562.57" font-size="23.10" textLength="49.11" lengthAdjust="spacingAndGlyphs" fill="#000">1x10</text>
<text x="986.27" y="555.80" font-size="13.91" textLength="7.21" lengthAdjust="spacingAndGlyphs" fill="#000">4</text>
<text x="1000.68" y="562.57" font-size="23.10" textLength="49.11" lengthAdjust="spacingAndGlyphs" fill="#000">1x10</text>
<text x="1048.98" y="555.66" font-size="13.71" textLength="7.79" lengthAdjust="spacingAndGlyphs" fill="#000">5</text>
<text x="1064.15" y="562.57" font-size="23.10" textLength="48.43" lengthAdjust="spacingAndGlyphs" fill="#000">2x10</text>
<text x="1111.78" y="555.66" font-size="13.71" textLength="7.79" lengthAdjust="spacingAndGlyphs" fill="#000">5</text>
<text x="1127.17" y="562.57" font-size="23.10" textLength="48.20" lengthAdjust="spacingAndGlyphs" fill="#000">3x10</text>
<text x="1174.58" y="555.66" font-size="13.71" textLength="7.79" lengthAdjust="spacingAndGlyphs" fill="#000">5</text>
<text x="1190.38" y="562.57" font-size="23.10" textLength="47.98" lengthAdjust="spacingAndGlyphs" fill="#000">4x10</text>
<text x="1237.58" y="555.66" font-size="13.71" textLength="7.79" lengthAdjust="spacingAndGlyphs" fill="#000">5</text>
<text x="1252.95" y="562.57" font-size="23.10" textLength="48.43" lengthAdjust="spacingAndGlyphs" fill="#000">5x10</text>
<text x="1300.58" y="555.66" font-size="13.71" textLength="7.79" lengthAdjust="spacingAndGlyphs" fill="#000">5</text>
<text x="1316.08" y="562.57" font-size="23.10" textLength="49.11" lengthAdjust="spacingAndGlyphs" fill="#000">1x10</text>
<text x="1364.22" y="555.66" font-size="13.52" textLength="8.11" lengthAdjust="spacingAndGlyphs" fill="#000">6</text>
<text x="1379.35" y="562.57" font-size="23.10" textLength="48.43" lengthAdjust="spacingAndGlyphs" fill="#000">2x10</text>
<text x="1426.82" y="555.66" font-size="13.52" textLength="8.11" lengthAdjust="spacingAndGlyphs" fill="#000">6</text>
<text x="-4.31" y="744.25" font-size="44.73" textLength="24.32" lengthAdjust="spacingAndGlyphs" fill="#000" font-style="italic">c</text>
<line x1="179.30" y1="706.50" x2="179.30" y2="1083.50" stroke="#000" stroke-width="3"/>
<line x1="171.30" y1="708.30" x2="179.30" y2="708.30" stroke="#000" stroke-width="2.6"/>
<line x1="171.30" y1="801.50" x2="179.30" y2="801.50" stroke="#000" stroke-width="2.6"/>
<line x1="171.30" y1="895.50" x2="179.30" y2="895.50" stroke="#000" stroke-width="2.6"/>
<line x1="171.30" y1="990.30" x2="179.30" y2="990.30" stroke="#000" stroke-width="2.6"/>
<text x="126.78" y="718.82" font-size="28.45" textLength="45.36" lengthAdjust="spacingAndGlyphs" fill="#000">800</text>
<text x="126.51" y="812.31" font-size="28.87" textLength="45.65" lengthAdjust="spacingAndGlyphs" fill="#000">600</text>
<text x="127.23" y="905.23" font-size="27.46" textLength="45.01" lengthAdjust="spacingAndGlyphs" fill="#000">400</text>
<text x="126.68" y="999.13" font-size="26.90" textLength="45.57" lengthAdjust="spacingAndGlyphs" fill="#000">200</text>
<text x="157.44" y="1092.93" font-size="26.90" textLength="14.72" lengthAdjust="spacingAndGlyphs" fill="#000">0</text>
<text transform="translate(68.87,1069.58) rotate(-90)" x="0" y="0" font-size="33.24" textLength="324.13" lengthAdjust="spacingAndGlyphs" fill="#000">Secreted azurin level</text>
<text transform="translate(107.84,1069.33) rotate(-90)" x="0" y="0" font-size="33.62" textLength="345.55" lengthAdjust="spacingAndGlyphs" fill="#000">(pixel intensity, x1000)</text>
<ellipse cx="195.20" cy="1077.60" rx="3.40" ry="3.40" fill="#fff" stroke="#000" stroke-width="2"/>
<ellipse cx="203.20" cy="1076.60" rx="3.40" ry="3.40" fill="#fff" stroke="#000" stroke-width="2"/>
<ellipse cx="218.40" cy="1077.60" rx="3.40" ry="3.40" fill="#fff" stroke="#000" stroke-width="2"/>
<ellipse cx="226.90" cy="1076.60" rx="3.40" ry="3.40" fill="#fff" stroke="#000" stroke-width="2"/>
<line x1="262.30" y1="998.40" x2="262.30" y2="1008.80" stroke="#000" stroke-width="1.8"/>
<line x1="258.40" y1="998.40" x2="266.20" y2="998.40" stroke="#000" stroke-width="1.8"/>
<rect x="253.90" y="1008.80" width="17.00" height="73.20" fill="#000"/>
<ellipse cx="262.10" cy="998.40" rx="3.30" ry="3.30" fill="#fff" stroke="#000" stroke-width="3.2"/>
<ellipse cx="262.10" cy="1009.60" rx="3.40" ry="3.40" fill="#fff" stroke="#000" stroke-width="2"/>
<ellipse cx="262.10" cy="1018.40" rx="3.00" ry="2.70" fill="#fff" stroke="none" stroke-width="0"/>
<ellipse cx="281.60" cy="1077.60" rx="3.40" ry="3.40" fill="#fff" stroke="#000" stroke-width="2"/>
<ellipse cx="290.00" cy="1076.60" rx="3.40" ry="3.40" fill="#fff" stroke="#000" stroke-width="2"/>
<line x1="324.90" y1="970.40" x2="324.90" y2="980.00" stroke="#000" stroke-width="1.8"/>
<line x1="321.00" y1="970.40" x2="328.80" y2="970.40" stroke="#000" stroke-width="1.8"/>
<rect x="316.50" y="980.00" width="17.00" height="102.00" fill="#000"/>
<ellipse cx="324.80" cy="970.40" rx="3.30" ry="3.30" fill="#fff" stroke="#000" stroke-width="3.2"/>
<ellipse cx="324.80" cy="978.40" rx="3.40" ry="3.40" fill="#fff" stroke="#000" stroke-width="2"/>
<ellipse cx="324.80" cy="990.40" rx="4.00" ry="3.60" fill="#fff" stroke="none" stroke-width="0"/>
<ellipse cx="344.00" cy="1077.60" rx="3.40" ry="3.40" fill="#fff" stroke="#000" stroke-width="2"/>
<ellipse cx="352.30" cy="1076.60" rx="3.40" ry="3.40" fill="#fff" stroke="#000" stroke-width="2"/>
<line x1="387.90" y1="956.00" x2="387.90" y2="971.50" stroke="#000" stroke-width="1.8"/>
<line x1="384.00" y1="956.00" x2="391.80" y2="956.00" stroke="#000" stroke-width="1.8"/>
<rect x="379.50" y="971.50" width="17.00" height="110.50" fill="#000"/>
<ellipse cx="387.50" cy="956.00" rx="3.30" ry="3.30" fill="#fff" stroke="#000" stroke-width="3.2"/>
<ellipse cx="387.50" cy="972.00" rx="3.40" ry="3.40" fill="#fff" stroke="#000" stroke-width="2"/>
<ellipse cx="387.50" cy="985.30" rx="3.20" ry="2.88" fill="#fff" stroke="none" stroke-width="0"/>
<ellipse cx="407.20" cy="1078.00" rx="3.40" ry="3.40" fill="#fff" stroke="#000" stroke-width="2"/>
<ellipse cx="415.20" cy="1077.60" rx="3.40" ry="3.40" fill="#fff" stroke="#000" stroke-width="2"/>
<line x1="450.80" y1="943.70" x2="450.80" y2="954.80" stroke="#000" stroke-width="1.8"/>
<line x1="446.90" y1="943.70" x2="454.70" y2="943.70" stroke="#000" stroke-width="1.8"/>
<rect x="442.40" y="954.80" width="17.00" height="127.20" fill="#000"/>
<ellipse cx="446.60" cy="946.30" rx="3.40" ry="3.40" fill="#fff" stroke="#000" stroke-width="2"/>
<ellipse cx="455.20" cy="951.60" rx="3.40" ry="3.40" fill="#fff" stroke="#000" stroke-width="2"/>
<ellipse cx="450.30" cy="967.60" rx="3.00" ry="2.70" fill="#fff" stroke="none" stroke-width="0"/>
<rect x="466.90" y="1044.40" width="14.50" height="37.60" fill="#fff" stroke="#000" stroke-width="2.2"/>
<ellipse cx="470.50" cy="1040.10" rx="3.40" ry="3.40" fill="#fff" stroke="#000" stroke-width="2"/>
<ellipse cx="478.60" cy="1041.20" rx="3.40" ry="3.40" fill="#fff" stroke="#000" stroke-width="2"/>
<ellipse cx="470.50" cy="1047.60" rx="3.40" ry="3.40" fill="#fff" stroke="#000" stroke-width="2"/>
<line x1="513.10" y1="909.00" x2="513.10" y2="920.00" stroke="#000" stroke-width="1.8"/>
<line x1="509.20" y1="909.00" x2="517.00" y2="909.00" stroke="#000" stroke-width="1.8"/>
<rect x="504.70" y="920.00" width="17.00" height="162.00" fill="#000"/>
<ellipse cx="509.40" cy="912.80" rx="3.40" ry="3.40" fill="#fff" stroke="#000" stroke-width="2"/>
<ellipse cx="517.50" cy="916.00" rx="3.40" ry="3.40" fill="#fff" stroke="#000" stroke-width="2"/>
<ellipse cx="513.80" cy="932.00" rx="4.00" ry="3.60" fill="#fff" stroke="none" stroke-width="0"/>
<rect x="530.30" y="1026.30" width="14.50" height="55.70" fill="#fff" stroke="#000" stroke-width="2.2"/>
<ellipse cx="533.90" cy="1020.90" rx="3.40" ry="3.40" fill="#fff" stroke="#000" stroke-width="2"/>
<ellipse cx="540.90" cy="1027.30" rx="3.40" ry="3.40" fill="#fff" stroke="#000" stroke-width="2"/>
<ellipse cx="533.90" cy="1029.50" rx="3.40" ry="3.40" fill="#fff" stroke="#000" stroke-width="2"/>
<line x1="576.60" y1="914.00" x2="576.60" y2="927.00" stroke="#000" stroke-width="1.8"/>
<line x1="572.70" y1="914.00" x2="580.50" y2="914.00" stroke="#000" stroke-width="1.8"/>
<rect x="568.20" y="927.00" width="17.00" height="155.00" fill="#000"/>
<ellipse cx="572.50" cy="918.50" rx="3.40" ry="3.40" fill="#fff" stroke="#000" stroke-width="2"/>
<ellipse cx="581.00" cy="923.90" rx="3.40" ry="3.40" fill="#fff" stroke="#000" stroke-width="2"/>
<ellipse cx="576.80" cy="938.80" rx="2.50" ry="2.25" fill="#fff" stroke="none" stroke-width="0"/>
<rect x="593.20" y="1027.40" width="14.50" height="54.60" fill="#fff" stroke="#000" stroke-width="2.2"/>
<ellipse cx="596.40" cy="1027.30" rx="3.40" ry="3.40" fill="#fff" stroke="#000" stroke-width="2"/>
<ellipse cx="600.70" cy="1025.20" rx="3.40" ry="3.40" fill="#fff" stroke="#000" stroke-width="2"/>
<ellipse cx="604.90" cy="1027.30" rx="3.40" ry="3.40" fill="#fff" stroke="#000" stroke-width="2"/>
<line x1="639.60" y1="841.00" x2="639.60" y2="849.20" stroke="#000" stroke-width="1.8"/>
<line x1="635.70" y1="841.00" x2="643.50" y2="841.00" stroke="#000" stroke-width="1.8"/>
<rect x="631.20" y="849.20" width="17.00" height="232.80" fill="#000"/>
<ellipse cx="635.90" cy="842.80" rx="3.40" ry="3.40" fill="#fff" stroke="#000" stroke-width="2"/>
<ellipse cx="643.30" cy="848.10" rx="3.40" ry="3.40" fill="#fff" stroke="#000" stroke-width="2"/>
<ellipse cx="635.40" cy="853.00" rx="4.20" ry="3.78" fill="#fff" stroke="none" stroke-width="0"/>
<rect x="656.20" y="1050.80" width="14.50" height="31.20" fill="#fff" stroke="#000" stroke-width="2.2"/>
<ellipse cx="663.00" cy="1043.30" rx="3.40" ry="3.40" fill="#fff" stroke="#000" stroke-width="2"/>
<ellipse cx="665.70" cy="1047.60" rx="3.40" ry="3.40" fill="#fff" stroke="#000" stroke-width="2"/>
<ellipse cx="659.30" cy="1051.40" rx="3.40" ry="3.40" fill="#fff" stroke="#000" stroke-width="2"/>
<line x1="702.50" y1="883.30" x2="702.50" y2="892.50" stroke="#000" stroke-width="1.8"/>
<line x1="698.60" y1="883.30" x2="706.40" y2="883.30" stroke="#000" stroke-width="1.8"/>
<rect x="694.10" y="892.50" width="17.00" height="189.50" fill="#000"/>
<ellipse cx="702.40" cy="883.30" rx="3.30" ry="3.30" fill="#fff" stroke="#000" stroke-width="3.2"/>
<ellipse cx="702.40" cy="891.90" rx="3.40" ry="3.40" fill="#fff" stroke="#000" stroke-width="2"/>
<ellipse cx="702.40" cy="901.50" rx="4.00" ry="3.60" fill="#fff" stroke="none" stroke-width="0"/>
<rect x="719.50" y="1059.40" width="14.50" height="22.60" fill="#fff" stroke="#000" stroke-width="2.2"/>
<ellipse cx="722.30" cy="1054.00" rx="3.40" ry="3.40" fill="#fff" stroke="#000" stroke-width="2"/>
<ellipse cx="729.70" cy="1059.30" rx="3.40" ry="3.40" fill="#fff" stroke="#000" stroke-width="2"/>
<ellipse cx="722.30" cy="1062.50" rx="3.40" ry="3.40" fill="#fff" stroke="#000" stroke-width="2"/>
<line x1="175.80" y1="1082.00" x2="746.70" y2="1082.00" stroke="#000" stroke-width="3"/>
<rect x="230.50" y="758.00" width="42.70" height="20.80" fill="#000"/>
<rect x="232.45" y="794.45" width="39.80" height="18.10" fill="#fff" stroke="#000" stroke-width="2.5"/>
<text x="281.91" y="777.70" font-size="29.73" textLength="76.37" lengthAdjust="spacingAndGlyphs" fill="#000">Mel-2</text>
<text x="282.81" y="813.18" font-size="31.69" textLength="68.01" lengthAdjust="spacingAndGlyphs" fill="#000">CMN</text>
<rect x="171.50" y="1092.60" width="587.50" height="53.20" fill="url(#blotC1)"/>
<rect x="171.50" y="1155.60" width="587.50" height="58.80" fill="url(#blotC2)"/>
<rect x="171.5" y="1155.6" width="587.5" height="58.8" filter="url(#nz)" opacity="0.10"/>
<rect x="171.5" y="1092.6" width="587.5" height="53.2" filter="url(#nz)" opacity="0.04"/>
<g clip-path="url(#clipC1)">
<rect x="171.0" y="1119.0" width="54.0" height="14.0" rx="7.0" fill="#e2e2e2" opacity="1.0" filter="url(#b4)"/>
<rect x="238.5" y="1117.0" width="54.0" height="16.0" rx="8.0" fill="#e2e2e2" opacity="1.0" filter="url(#b4)"/>
<rect x="312.0" y="1112.0" width="46.0" height="18.0" rx="9.0" fill="#e2e2e2" opacity="1.0" filter="url(#b4)"/>
<rect x="381.0" y="1113.5" width="50.0" height="17.0" rx="8.5" fill="#e2e2e2" opacity="1.0" filter="url(#b4)"/>
<rect x="448.0" y="1112.0" width="50.0" height="18.0" rx="9.0" fill="#e2e2e2" opacity="1.0" filter="url(#b4)"/>
<rect x="517.0" y="1107.0" width="44.0" height="18.0" rx="9.0" fill="#e2e2e2" opacity="1.0" filter="url(#b4)"/>
<rect x="572.5" y="1111.5" width="47.0" height="19.0" rx="9.5" fill="#e2e2e2" opacity="1.0" filter="url(#b4)"/>
<rect x="638.0" y="1112.5" width="52.0" height="21.0" rx="10.5" fill="#e2e2e2" opacity="1.0" filter="url(#b4)"/>
<rect x="712.0" y="1109.5" width="32.0" height="25.0" rx="12.5" fill="#e2e2e2" opacity="1.0" filter="url(#b4)"/>
<rect x="173.0" y="1123.0" width="50.0" height="6.0" rx="3.0" fill="#dedede" opacity="1.0" filter="url(#b3_5)"/>
<rect x="240.5" y="1121.0" width="50.0" height="8.0" rx="4.0" fill="#4a4a4a" opacity="1.0" filter="url(#b3_5)"/>
<rect x="314.0" y="1116.0" width="42.0" height="10.0" rx="5.0" fill="#2a2a2a" opacity="1.0" filter="url(#b3_5)"/>
<rect x="383.0" y="1117.5" width="46.0" height="9.0" rx="4.5" fill="#333" opacity="1.0" filter="url(#b3_5)"/>
<rect x="450.0" y="1116.0" width="46.0" height="10.0" rx="5.0" fill="#222" opacity="1.0" filter="url(#b3_5)"/>
<rect x="519.0" y="1111.0" width="40.0" height="10.0" rx="5.0" fill="#1a1a1a" opacity="1.0" filter="url(#b3_5)"/>
<rect x="574.5" y="1115.5" width="43.0" height="11.0" rx="5.5" fill="#1e1e1e" opacity="1.0" filter="url(#b3_5)"/>
<rect x="640.0" y="1116.5" width="48.0" height="13.0" rx="6.5" fill="#080808" opacity="1.0" filter="url(#b3_5)"/>
<rect x="714.0" y="1113.5" width="28.0" height="17.0" rx="8.5" fill="#000" opacity="1.0" filter="url(#b3_5)"/>
<rect x="520.0" y="1106.0" width="38.0" height="8.0" rx="4.0" fill="#d2d2d2" opacity="1.0" filter="url(#b4)"/>
</g>
<g clip-path="url(#clipC2)">
<rect x="446.0" y="1180.0" width="40.0" height="8.0" rx="4.0" fill="#666" opacity="1.0" filter="url(#b3)"/>
<rect x="517.6" y="1176.5" width="28.0" height="13.0" rx="6.5" fill="#000" opacity="1.0" filter="url(#b3)"/>
<rect x="577.5" y="1180.0" width="35.0" height="10.0" rx="5.0" fill="#333" opacity="1.0" filter="url(#b3)"/>
<rect x="640.5" y="1181.9" width="35.0" height="9.0" rx="4.5" fill="#7a7a7a" opacity="1.0" filter="url(#b3)"/>
<rect x="709.0" y="1185.0" width="38.0" height="8.0" rx="4.0" fill="#b4b4b4" opacity="1.0" filter="url(#b3)"/>
<rect x="470.0" y="1180.0" width="16.0" height="8.0" rx="4.0" fill="#222" opacity="1.0" filter="url(#b2)"/>
</g>
<text x="62.78" y="1136.72" font-size="38.11" textLength="86.51" lengthAdjust="spacingAndGlyphs" fill="#000">Mel2</text>
<text x="59.07" y="1206.40" font-size="40.42" textLength="87.11" lengthAdjust="spacingAndGlyphs" fill="#000">CMN</text>
<text x="764.11" y="1082.40" font-size="21.91" textLength="54.70" lengthAdjust="spacingAndGlyphs" fill="#000">(kDa)</text>
<rect x="752.40" y="1101.90" width="19.50" height="3.60" fill="#000"/>
<text x="771.69" y="1111.00" font-size="22.46" textLength="24.34" lengthAdjust="spacingAndGlyphs" fill="#000">17</text>
<rect x="753.90" y="1173.50" width="19.60" height="3.60" fill="#000"/>
<text x="774.25" y="1182.50" font-size="22.32" textLength="23.24" lengthAdjust="spacingAndGlyphs" fill="#000">17</text>
<text x="7.83" y="1261.51" font-size="38.65" textLength="163.79" lengthAdjust="spacingAndGlyphs" fill="#000"># of cells</text>
<text x="202.28" y="1255.17" font-size="22.82" textLength="12.75" lengthAdjust="spacingAndGlyphs" fill="#000">0</text>
<text x="245.28" y="1255.17" font-size="22.82" textLength="49.11" lengthAdjust="spacingAndGlyphs" fill="#000">1x10</text>
<text x="293.87" y="1248.60" font-size="13.91" textLength="7.21" lengthAdjust="spacingAndGlyphs" fill="#000">4</text>
<text x="308.68" y="1255.17" font-size="22.82" textLength="49.11" lengthAdjust="spacingAndGlyphs" fill="#000">1x10</text>
<text x="356.98" y="1248.46" font-size="13.71" textLength="7.79" lengthAdjust="spacingAndGlyphs" fill="#000">5</text>
<text x="371.75" y="1255.17" font-size="22.82" textLength="48.43" lengthAdjust="spacingAndGlyphs" fill="#000">2x10</text>
<text x="419.38" y="1248.46" font-size="13.71" textLength="7.79" lengthAdjust="spacingAndGlyphs" fill="#000">5</text>
<text x="434.57" y="1255.17" font-size="22.82" textLength="48.20" lengthAdjust="spacingAndGlyphs" fill="#000">3x10</text>
<text x="481.98" y="1248.46" font-size="13.71" textLength="7.79" lengthAdjust="spacingAndGlyphs" fill="#000">5</text>
<text x="497.78" y="1255.17" font-size="22.82" textLength="47.98" lengthAdjust="spacingAndGlyphs" fill="#000">4x10</text>
<text x="544.98" y="1248.46" font-size="13.71" textLength="7.79" lengthAdjust="spacingAndGlyphs" fill="#000">5</text>
<text x="561.15" y="1255.17" font-size="22.82" textLength="48.43" lengthAdjust="spacingAndGlyphs" fill="#000">5x10</text>
<text x="608.78" y="1248.46" font-size="13.71" textLength="7.79" lengthAdjust="spacingAndGlyphs" fill="#000">5</text>
<text x="624.08" y="1255.17" font-size="22.82" textLength="49.11" lengthAdjust="spacingAndGlyphs" fill="#000">1x10</text>
<text x="672.22" y="1248.46" font-size="13.52" textLength="8.11" lengthAdjust="spacingAndGlyphs" fill="#000">6</text>
<text x="687.15" y="1255.17" font-size="22.82" textLength="48.43" lengthAdjust="spacingAndGlyphs" fill="#000">2x10</text>
<text x="734.62" y="1248.46" font-size="13.52" textLength="8.11" lengthAdjust="spacingAndGlyphs" fill="#000">6</text>
<text x="821.09" y="732.94" font-size="46.22" textLength="26.68" lengthAdjust="spacingAndGlyphs" fill="#000" font-style="italic">d</text>
<rect x="946.40" y="912.80" width="105.00" height="7.40" fill="#c6c6c6"/>
<rect x="949.90" y="831.00" width="7.50" height="83.00" fill="#c6c6c6"/>
<rect x="1040.90" y="831.00" width="7.50" height="83.00" fill="#c6c6c6"/>
<rect x="957.40" y="846.40" width="83.50" height="66.60" fill="#a0a0a0"/>
<rect x="956.90" y="906.80" width="84.50" height="6.40" fill="#3a4fc4" rx="3"/>
<rect x="959.40" y="908.90" width="6.20" height="2.00" fill="#7b90f0"/>
<rect x="969.70" y="908.90" width="6.20" height="2.00" fill="#7b90f0"/>
<rect x="980.00" y="908.90" width="6.20" height="2.00" fill="#7b90f0"/>
<rect x="990.30" y="908.90" width="6.20" height="2.00" fill="#7b90f0"/>
<rect x="1000.60" y="908.90" width="6.20" height="2.00" fill="#7b90f0"/>
<rect x="1010.90" y="908.90" width="6.20" height="2.00" fill="#7b90f0"/>
<rect x="1021.20" y="908.90" width="6.20" height="2.00" fill="#7b90f0"/>
<rect x="1031.50" y="908.90" width="6.20" height="2.00" fill="#7b90f0"/>
<path d="M957.9 834.0 L962.9 834.0 L970.4 896.0 L965.4 896.0 Z" fill="#cdcdcd"/>
<path d="M1039.9 834.0 L1034.9 834.0 L1027.4 896.0 L1032.4 896.0 Z" fill="#cdcdcd"/>
<path d="M961.4 836.0 L962.9 836.0 L970.4 896.0 L968.9 896.0 Z" fill="#e2e2e2"/>
<path d="M1036.4 836.0 L1034.9 836.0 L1027.4 896.0 L1028.9 896.0 Z" fill="#e2e2e2"/>
<rect x="948.40" y="831.00" width="14.50" height="5.00" fill="#c6c6c6"/>
<rect x="1034.90" y="831.00" width="14.50" height="5.00" fill="#c6c6c6"/>
<rect x="967.40" y="892.00" width="5.20" height="5.50" fill="#fbfbfb"/>
<rect x="975.70" y="892.00" width="5.20" height="5.50" fill="#fbfbfb"/>
<rect x="984.00" y="892.00" width="5.20" height="5.50" fill="#fbfbfb"/>
<rect x="992.30" y="892.00" width="5.20" height="5.50" fill="#fbfbfb"/>
<rect x="1000.60" y="892.00" width="5.20" height="5.50" fill="#fbfbfb"/>
<rect x="1008.90" y="892.00" width="5.20" height="5.50" fill="#fbfbfb"/>
<rect x="1017.20" y="892.00" width="5.20" height="5.50" fill="#fbfbfb"/>
<rect x="1025.50" y="892.00" width="5.20" height="5.50" fill="#fbfbfb"/>
<ellipse cx="974.6" cy="854.5" rx="4.1" ry="3.2" fill="#12803a" stroke="#0a4a22" stroke-width="0.9"/>
<ellipse cx="974.6" cy="854.3" rx="1.6" ry="1.1" fill="#3cc070"/>
<ellipse cx="992.2" cy="852.8" rx="4.1" ry="3.2" fill="#12803a" stroke="#0a4a22" stroke-width="0.9"/>
<ellipse cx="992.2" cy="852.6" rx="1.6" ry="1.1" fill="#3cc070"/>
<ellipse cx="1005.4" cy="853.3" rx="4.1" ry="3.2" fill="#12803a" stroke="#0a4a22" stroke-width="0.9"/>
<ellipse cx="1005.4" cy="853.1" rx="1.6" ry="1.1" fill="#3cc070"/>
<ellipse cx="1020.7" cy="854.4" rx="4.1" ry="3.2" fill="#12803a" stroke="#0a4a22" stroke-width="0.9"/>
<ellipse cx="1020.7" cy="854.2" rx="1.6" ry="1.1" fill="#3cc070"/>
<ellipse cx="978.4" cy="868.8" rx="4.1" ry="3.2" fill="#12803a" stroke="#0a4a22" stroke-width="0.9"/>
<ellipse cx="978.4" cy="868.6" rx="1.6" ry="1.1" fill="#3cc070"/>
<ellipse cx="996.6" cy="870.0" rx="4.1" ry="3.2" fill="#12803a" stroke="#0a4a22" stroke-width="0.9"/>
<ellipse cx="996.6" cy="869.8" rx="1.6" ry="1.1" fill="#3cc070"/>
<ellipse cx="1010.7" cy="868.8" rx="4.1" ry="3.2" fill="#12803a" stroke="#0a4a22" stroke-width="0.9"/>
<ellipse cx="1010.7" cy="868.6" rx="1.6" ry="1.1" fill="#3cc070"/>
<ellipse cx="1023.6" cy="870.9" rx="4.1" ry="3.2" fill="#12803a" stroke="#0a4a22" stroke-width="0.9"/>
<ellipse cx="1023.6" cy="870.7" rx="1.6" ry="1.1" fill="#3cc070"/>
<ellipse cx="975.0" cy="888.3" rx="4.1" ry="3.2" fill="#12803a" stroke="#0a4a22" stroke-width="0.9"/>
<ellipse cx="975.0" cy="888.1" rx="1.6" ry="1.1" fill="#3cc070"/>
<ellipse cx="992.9" cy="885.6" rx="4.1" ry="3.2" fill="#12803a" stroke="#0a4a22" stroke-width="0.9"/>
<ellipse cx="992.9" cy="885.4" rx="1.6" ry="1.1" fill="#3cc070"/>
<ellipse cx="1003.0" cy="887.1" rx="4.1" ry="3.2" fill="#12803a" stroke="#0a4a22" stroke-width="0.9"/>
<ellipse cx="1003.0" cy="886.9" rx="1.6" ry="1.1" fill="#3cc070"/>
<ellipse cx="1022.1" cy="886.6" rx="4.1" ry="3.2" fill="#12803a" stroke="#0a4a22" stroke-width="0.9"/>
<ellipse cx="1022.1" cy="886.4" rx="1.6" ry="1.1" fill="#3cc070"/>
<rect x="1067.20" y="912.80" width="105.00" height="7.40" fill="#c6c6c6"/>
<rect x="1070.70" y="839.00" width="7.50" height="75.00" fill="#c6c6c6"/>
<rect x="1161.70" y="839.00" width="7.50" height="75.00" fill="#c6c6c6"/>
<rect x="1078.20" y="846.40" width="83.50" height="66.60" fill="#a0a0a0"/>
<rect x="1077.70" y="906.80" width="84.50" height="6.40" fill="#3a4fc4" rx="3"/>
<rect x="1080.20" y="908.90" width="6.20" height="2.00" fill="#7b90f0"/>
<rect x="1090.50" y="908.90" width="6.20" height="2.00" fill="#7b90f0"/>
<rect x="1100.80" y="908.90" width="6.20" height="2.00" fill="#7b90f0"/>
<rect x="1111.10" y="908.90" width="6.20" height="2.00" fill="#7b90f0"/>
<rect x="1121.40" y="908.90" width="6.20" height="2.00" fill="#7b90f0"/>
<rect x="1131.70" y="908.90" width="6.20" height="2.00" fill="#7b90f0"/>
<rect x="1142.00" y="908.90" width="6.20" height="2.00" fill="#7b90f0"/>
<rect x="1152.30" y="908.90" width="6.20" height="2.00" fill="#7b90f0"/>
<path d="M1078.7 834.0 L1083.7 834.0 L1091.2 887.5 L1086.2 887.5 Z" fill="#cdcdcd"/>
<path d="M1160.7 834.0 L1155.7 834.0 L1148.2 887.5 L1153.2 887.5 Z" fill="#cdcdcd"/>
<path d="M1082.2 836.0 L1083.7 836.0 L1091.2 887.5 L1089.7 887.5 Z" fill="#e2e2e2"/>
<path d="M1157.2 836.0 L1155.7 836.0 L1148.2 887.5 L1149.7 887.5 Z" fill="#e2e2e2"/>
<rect x="1069.20" y="831.00" width="14.50" height="5.00" fill="#c6c6c6"/>
<rect x="1155.70" y="831.00" width="14.50" height="5.00" fill="#c6c6c6"/>
<rect x="1088.20" y="883.50" width="5.20" height="5.50" fill="#fbfbfb"/>
<rect x="1096.50" y="883.50" width="5.20" height="5.50" fill="#fbfbfb"/>
<rect x="1104.80" y="883.50" width="5.20" height="5.50" fill="#fbfbfb"/>
<rect x="1113.10" y="883.50" width="5.20" height="5.50" fill="#fbfbfb"/>
<rect x="1121.40" y="883.50" width="5.20" height="5.50" fill="#fbfbfb"/>
<rect x="1129.70" y="883.50" width="5.20" height="5.50" fill="#fbfbfb"/>
<rect x="1138.00" y="883.50" width="5.20" height="5.50" fill="#fbfbfb"/>
<rect x="1146.30" y="883.50" width="5.20" height="5.50" fill="#fbfbfb"/>
<ellipse cx="1099.5" cy="854.8" rx="4.1" ry="3.2" fill="#12803a" stroke="#0a4a22" stroke-width="0.9"/>
<ellipse cx="1099.5" cy="854.6" rx="1.6" ry="1.1" fill="#3cc070"/>
<ellipse cx="1109.5" cy="852.3" rx="4.1" ry="3.2" fill="#12803a" stroke="#0a4a22" stroke-width="0.9"/>
<ellipse cx="1109.5" cy="852.1" rx="1.6" ry="1.1" fill="#3cc070"/>
<ellipse cx="1127.9" cy="854.2" rx="4.1" ry="3.2" fill="#12803a" stroke="#0a4a22" stroke-width="0.9"/>
<ellipse cx="1127.9" cy="854.0" rx="1.6" ry="1.1" fill="#3cc070"/>
<ellipse cx="1141.5" cy="852.9" rx="4.1" ry="3.2" fill="#12803a" stroke="#0a4a22" stroke-width="0.9"/>
<ellipse cx="1141.5" cy="852.7" rx="1.6" ry="1.1" fill="#3cc070"/>
<ellipse cx="1101.7" cy="866.3" rx="4.1" ry="3.2" fill="#12803a" stroke="#0a4a22" stroke-width="0.9"/>
<ellipse cx="1101.7" cy="866.1" rx="1.6" ry="1.1" fill="#3cc070"/>
<ellipse cx="1116.1" cy="865.0" rx="4.1" ry="3.2" fill="#12803a" stroke="#0a4a22" stroke-width="0.9"/>
<ellipse cx="1116.1" cy="864.8" rx="1.6" ry="1.1" fill="#3cc070"/>
<ellipse cx="1129.9" cy="865.7" rx="4.1" ry="3.2" fill="#12803a" stroke="#0a4a22" stroke-width="0.9"/>
<ellipse cx="1129.9" cy="865.5" rx="1.6" ry="1.1" fill="#3cc070"/>
<ellipse cx="1145.8" cy="867.5" rx="4.1" ry="3.2" fill="#12803a" stroke="#0a4a22" stroke-width="0.9"/>
<ellipse cx="1145.8" cy="867.3" rx="1.6" ry="1.1" fill="#3cc070"/>
<ellipse cx="1099.4" cy="878.6" rx="4.1" ry="3.2" fill="#12803a" stroke="#0a4a22" stroke-width="0.9"/>
<ellipse cx="1099.4" cy="878.4" rx="1.6" ry="1.1" fill="#3cc070"/>
<ellipse cx="1111.4" cy="877.8" rx="4.1" ry="3.2" fill="#12803a" stroke="#0a4a22" stroke-width="0.9"/>
<ellipse cx="1111.4" cy="877.6" rx="1.6" ry="1.1" fill="#3cc070"/>
<ellipse cx="1123.9" cy="877.1" rx="4.1" ry="3.2" fill="#12803a" stroke="#0a4a22" stroke-width="0.9"/>
<ellipse cx="1123.9" cy="876.9" rx="1.6" ry="1.1" fill="#3cc070"/>
<ellipse cx="1140.5" cy="878.0" rx="4.1" ry="3.2" fill="#12803a" stroke="#0a4a22" stroke-width="0.9"/>
<ellipse cx="1140.5" cy="877.8" rx="1.6" ry="1.1" fill="#3cc070"/>
<rect x="1190.60" y="912.80" width="105.00" height="7.40" fill="#c6c6c6"/>
<rect x="1194.10" y="839.00" width="7.50" height="75.00" fill="#c6c6c6"/>
<rect x="1285.10" y="839.00" width="7.50" height="75.00" fill="#c6c6c6"/>
<rect x="1201.60" y="846.40" width="83.50" height="66.60" fill="#a0a0a0"/>
<rect x="1201.10" y="906.80" width="84.50" height="6.40" fill="#3a4fc4" rx="3"/>
<rect x="1203.60" y="908.90" width="6.20" height="2.00" fill="#7b90f0"/>
<rect x="1213.90" y="908.90" width="6.20" height="2.00" fill="#7b90f0"/>
<rect x="1224.20" y="908.90" width="6.20" height="2.00" fill="#7b90f0"/>
<rect x="1234.50" y="908.90" width="6.20" height="2.00" fill="#7b90f0"/>
<rect x="1244.80" y="908.90" width="6.20" height="2.00" fill="#7b90f0"/>
<rect x="1255.10" y="908.90" width="6.20" height="2.00" fill="#7b90f0"/>
<rect x="1265.40" y="908.90" width="6.20" height="2.00" fill="#7b90f0"/>
<rect x="1275.70" y="908.90" width="6.20" height="2.00" fill="#7b90f0"/>
<path d="M1202.1 824.0 L1207.1 824.0 L1214.6 878.4 L1209.6 878.4 Z" fill="#cdcdcd"/>
<path d="M1284.1 824.0 L1279.1 824.0 L1271.6 878.4 L1276.6 878.4 Z" fill="#cdcdcd"/>
<path d="M1205.6 826.0 L1207.1 826.0 L1214.6 878.4 L1213.1 878.4 Z" fill="#e2e2e2"/>
<path d="M1280.6 826.0 L1279.1 826.0 L1271.6 878.4 L1273.1 878.4 Z" fill="#e2e2e2"/>
<rect x="1192.60" y="821.00" width="14.50" height="5.00" fill="#c6c6c6"/>
<rect x="1279.10" y="821.00" width="14.50" height="5.00" fill="#c6c6c6"/>
<rect x="1211.60" y="874.40" width="5.20" height="5.50" fill="#fbfbfb"/>
<rect x="1219.90" y="874.40" width="5.20" height="5.50" fill="#fbfbfb"/>
<rect x="1228.20" y="874.40" width="5.20" height="5.50" fill="#fbfbfb"/>
<rect x="1236.50" y="874.40" width="5.20" height="5.50" fill="#fbfbfb"/>
<rect x="1244.80" y="874.40" width="5.20" height="5.50" fill="#fbfbfb"/>
<rect x="1253.10" y="874.40" width="5.20" height="5.50" fill="#fbfbfb"/>
<rect x="1261.40" y="874.40" width="5.20" height="5.50" fill="#fbfbfb"/>
<rect x="1269.70" y="874.40" width="5.20" height="5.50" fill="#fbfbfb"/>
<ellipse cx="1219.3" cy="853.6" rx="4.1" ry="3.2" fill="#12803a" stroke="#0a4a22" stroke-width="0.9"/>
<ellipse cx="1219.3" cy="853.4" rx="1.6" ry="1.1" fill="#3cc070"/>
<ellipse cx="1234.4" cy="853.8" rx="4.1" ry="3.2" fill="#12803a" stroke="#0a4a22" stroke-width="0.9"/>
<ellipse cx="1234.4" cy="853.6" rx="1.6" ry="1.1" fill="#3cc070"/>
<ellipse cx="1250.2" cy="852.2" rx="4.1" ry="3.2" fill="#12803a" stroke="#0a4a22" stroke-width="0.9"/>
<ellipse cx="1250.2" cy="852.0" rx="1.6" ry="1.1" fill="#3cc070"/>
<ellipse cx="1261.7" cy="854.5" rx="4.1" ry="3.2" fill="#12803a" stroke="#0a4a22" stroke-width="0.9"/>
<ellipse cx="1261.7" cy="854.3" rx="1.6" ry="1.1" fill="#3cc070"/>
<ellipse cx="1223.4" cy="860.7" rx="4.1" ry="3.2" fill="#12803a" stroke="#0a4a22" stroke-width="0.9"/>
<ellipse cx="1223.4" cy="860.5" rx="1.6" ry="1.1" fill="#3cc070"/>
<ellipse cx="1241.6" cy="861.4" rx="4.1" ry="3.2" fill="#12803a" stroke="#0a4a22" stroke-width="0.9"/>
<ellipse cx="1241.6" cy="861.2" rx="1.6" ry="1.1" fill="#3cc070"/>
<ellipse cx="1255.3" cy="861.4" rx="4.1" ry="3.2" fill="#12803a" stroke="#0a4a22" stroke-width="0.9"/>
<ellipse cx="1255.3" cy="861.2" rx="1.6" ry="1.1" fill="#3cc070"/>
<ellipse cx="1268.8" cy="860.4" rx="4.1" ry="3.2" fill="#12803a" stroke="#0a4a22" stroke-width="0.9"/>
<ellipse cx="1268.8" cy="860.2" rx="1.6" ry="1.1" fill="#3cc070"/>
<ellipse cx="1221.3" cy="870.5" rx="4.1" ry="3.2" fill="#12803a" stroke="#0a4a22" stroke-width="0.9"/>
<ellipse cx="1221.3" cy="870.3" rx="1.6" ry="1.1" fill="#3cc070"/>
<ellipse cx="1235.2" cy="870.1" rx="4.1" ry="3.2" fill="#12803a" stroke="#0a4a22" stroke-width="0.9"/>
<ellipse cx="1235.2" cy="869.9" rx="1.6" ry="1.1" fill="#3cc070"/>
<ellipse cx="1250.5" cy="868.1" rx="4.1" ry="3.2" fill="#12803a" stroke="#0a4a22" stroke-width="0.9"/>
<ellipse cx="1250.5" cy="867.9" rx="1.6" ry="1.1" fill="#3cc070"/>
<ellipse cx="1265.4" cy="869.7" rx="4.1" ry="3.2" fill="#12803a" stroke="#0a4a22" stroke-width="0.9"/>
<ellipse cx="1265.4" cy="869.5" rx="1.6" ry="1.1" fill="#3cc070"/>
<rect x="1310.60" y="912.80" width="105.00" height="7.40" fill="#c6c6c6"/>
<rect x="1314.10" y="839.00" width="7.50" height="75.00" fill="#c6c6c6"/>
<rect x="1405.10" y="839.00" width="7.50" height="75.00" fill="#c6c6c6"/>
<rect x="1321.60" y="846.40" width="83.50" height="66.60" fill="#a0a0a0"/>
<rect x="1321.10" y="906.80" width="84.50" height="6.40" fill="#3a4fc4" rx="3"/>
<rect x="1323.60" y="908.90" width="6.20" height="2.00" fill="#7b90f0"/>
<rect x="1333.90" y="908.90" width="6.20" height="2.00" fill="#7b90f0"/>
<rect x="1344.20" y="908.90" width="6.20" height="2.00" fill="#7b90f0"/>
<rect x="1354.50" y="908.90" width="6.20" height="2.00" fill="#7b90f0"/>
<rect x="1364.80" y="908.90" width="6.20" height="2.00" fill="#7b90f0"/>
<rect x="1375.10" y="908.90" width="6.20" height="2.00" fill="#7b90f0"/>
<rect x="1385.40" y="908.90" width="6.20" height="2.00" fill="#7b90f0"/>
<rect x="1395.70" y="908.90" width="6.20" height="2.00" fill="#7b90f0"/>
<path d="M1322.1 815.0 L1327.1 815.0 L1334.6 869.6 L1329.6 869.6 Z" fill="#cdcdcd"/>
<path d="M1404.1 815.0 L1399.1 815.0 L1391.6 869.6 L1396.6 869.6 Z" fill="#cdcdcd"/>
<path d="M1325.6 817.0 L1327.1 817.0 L1334.6 869.6 L1333.1 869.6 Z" fill="#e2e2e2"/>
<path d="M1400.6 817.0 L1399.1 817.0 L1391.6 869.6 L1393.1 869.6 Z" fill="#e2e2e2"/>
<rect x="1312.60" y="812.00" width="14.50" height="5.00" fill="#c6c6c6"/>
<rect x="1399.10" y="812.00" width="14.50" height="5.00" fill="#c6c6c6"/>
<rect x="1331.60" y="865.60" width="5.20" height="5.50" fill="#fbfbfb"/>
<rect x="1339.90" y="865.60" width="5.20" height="5.50" fill="#fbfbfb"/>
<rect x="1348.20" y="865.60" width="5.20" height="5.50" fill="#fbfbfb"/>
<rect x="1356.50" y="865.60" width="5.20" height="5.50" fill="#fbfbfb"/>
<rect x="1364.80" y="865.60" width="5.20" height="5.50" fill="#fbfbfb"/>
<rect x="1373.10" y="865.60" width="5.20" height="5.50" fill="#fbfbfb"/>
<rect x="1381.40" y="865.60" width="5.20" height="5.50" fill="#fbfbfb"/>
<rect x="1389.70" y="865.60" width="5.20" height="5.50" fill="#fbfbfb"/>
<ellipse cx="1339.3" cy="852.3" rx="4.1" ry="3.2" fill="#12803a" stroke="#0a4a22" stroke-width="0.9"/>
<ellipse cx="1339.3" cy="852.1" rx="1.6" ry="1.1" fill="#3cc070"/>
<ellipse cx="1354.6" cy="852.5" rx="4.1" ry="3.2" fill="#12803a" stroke="#0a4a22" stroke-width="0.9"/>
<ellipse cx="1354.6" cy="852.3" rx="1.6" ry="1.1" fill="#3cc070"/>
<ellipse cx="1367.4" cy="853.2" rx="4.1" ry="3.2" fill="#12803a" stroke="#0a4a22" stroke-width="0.9"/>
<ellipse cx="1367.4" cy="853.0" rx="1.6" ry="1.1" fill="#3cc070"/>
<ellipse cx="1386.2" cy="854.4" rx="4.1" ry="3.2" fill="#12803a" stroke="#0a4a22" stroke-width="0.9"/>
<ellipse cx="1386.2" cy="854.2" rx="1.6" ry="1.1" fill="#3cc070"/>
<ellipse cx="1345.9" cy="856.2" rx="4.1" ry="3.2" fill="#12803a" stroke="#0a4a22" stroke-width="0.9"/>
<ellipse cx="1345.9" cy="856.0" rx="1.6" ry="1.1" fill="#3cc070"/>
<ellipse cx="1359.3" cy="856.4" rx="4.1" ry="3.2" fill="#12803a" stroke="#0a4a22" stroke-width="0.9"/>
<ellipse cx="1359.3" cy="856.2" rx="1.6" ry="1.1" fill="#3cc070"/>
<ellipse cx="1372.0" cy="855.9" rx="4.1" ry="3.2" fill="#12803a" stroke="#0a4a22" stroke-width="0.9"/>
<ellipse cx="1372.0" cy="855.7" rx="1.6" ry="1.1" fill="#3cc070"/>
<ellipse cx="1386.7" cy="858.3" rx="4.1" ry="3.2" fill="#12803a" stroke="#0a4a22" stroke-width="0.9"/>
<ellipse cx="1386.7" cy="858.1" rx="1.6" ry="1.1" fill="#3cc070"/>
<ellipse cx="1342.2" cy="861.5" rx="4.1" ry="3.2" fill="#12803a" stroke="#0a4a22" stroke-width="0.9"/>
<ellipse cx="1342.2" cy="861.3" rx="1.6" ry="1.1" fill="#3cc070"/>
<ellipse cx="1356.6" cy="859.7" rx="4.1" ry="3.2" fill="#12803a" stroke="#0a4a22" stroke-width="0.9"/>
<ellipse cx="1356.6" cy="859.5" rx="1.6" ry="1.1" fill="#3cc070"/>
<ellipse cx="1368.6" cy="861.0" rx="4.1" ry="3.2" fill="#12803a" stroke="#0a4a22" stroke-width="0.9"/>
<ellipse cx="1368.6" cy="860.8" rx="1.6" ry="1.1" fill="#3cc070"/>
<ellipse cx="1385.3" cy="861.7" rx="4.1" ry="3.2" fill="#12803a" stroke="#0a4a22" stroke-width="0.9"/>
<ellipse cx="1385.3" cy="861.5" rx="1.6" ry="1.1" fill="#3cc070"/>
<text x="1422.90" y="932.41" font-size="22.34" textLength="55.01" lengthAdjust="spacingAndGlyphs" fill="#000">(kDa)</text>
<rect x="1411.10" y="951.80" width="19.80" height="3.60" fill="#000"/>
<text x="1431.12" y="960.80" font-size="22.46" textLength="23.79" lengthAdjust="spacingAndGlyphs" fill="#000">17</text>
<text x="824.64" y="999.32" font-size="37.84" textLength="120.01" lengthAdjust="spacingAndGlyphs" fill="#000">Azurin</text>
<path d="M971 992 C971 978 978 962 986 962 C992 962 994 972 996 978 L1055 975 C1058 968 1060 954 1066 954 C1075 954 1085 975 1086 990 C1086 1003 1080 1009.5 1065 1009.5 L990 1009.5 C975 1009 971 1002 971 992 Z" fill="#000" filter="url(#b2_2)"/>
<path d="M1097 994 C1097 986 1100 983.5 1108 983.5 L1180 983 C1188 980 1202 982 1202 993 C1202 1003 1196 1005 1185 1005 L1108 1005 C1100 1005 1097 1002 1097 994 Z" fill="#000" filter="url(#b2_2)"/>
<path d="M1219 996 C1219 992 1222 991 1228 991 L1285 989.5 C1295 989 1299 991 1299 995.5 C1299 1000 1295 1001.5 1288 1001.5 L1228 1002 C1222 1002 1219 1000 1219 996 Z" fill="#050505" filter="url(#b2)"/>
<rect x="1320.0" y="986.0" width="84.0" height="10.0" rx="5.0" fill="#dadada" opacity="1.0" filter="url(#b2_5)"/>
<rect x="1387.0" y="985.5" width="18.0" height="9.0" rx="4.5" fill="#c4c4c4" opacity="1.0" filter="url(#b2)"/>
<rect x="1320.0" y="987.0" width="16.0" height="8.0" rx="4.0" fill="#d0d0d0" opacity="1.0" filter="url(#b2)"/>
<text x="991.99" y="1067.10" font-size="29.86" textLength="16.91" lengthAdjust="spacingAndGlyphs" fill="#000">2</text>
<text x="1118.02" y="1067.10" font-size="30.29" textLength="15.55" lengthAdjust="spacingAndGlyphs" fill="#000">4</text>
<text x="1243.65" y="1066.81" font-size="29.44" textLength="15.80" lengthAdjust="spacingAndGlyphs" fill="#000">8</text>
<text x="1369.60" y="1067.10" font-size="29.86" textLength="31.61" lengthAdjust="spacingAndGlyphs" fill="#000">12</text>
<text x="1109.70" y="1101.10" font-size="29.04" textLength="197.05" lengthAdjust="spacingAndGlyphs" fill="#000">Distance (mm)</text>
</svg>
</body></html>
